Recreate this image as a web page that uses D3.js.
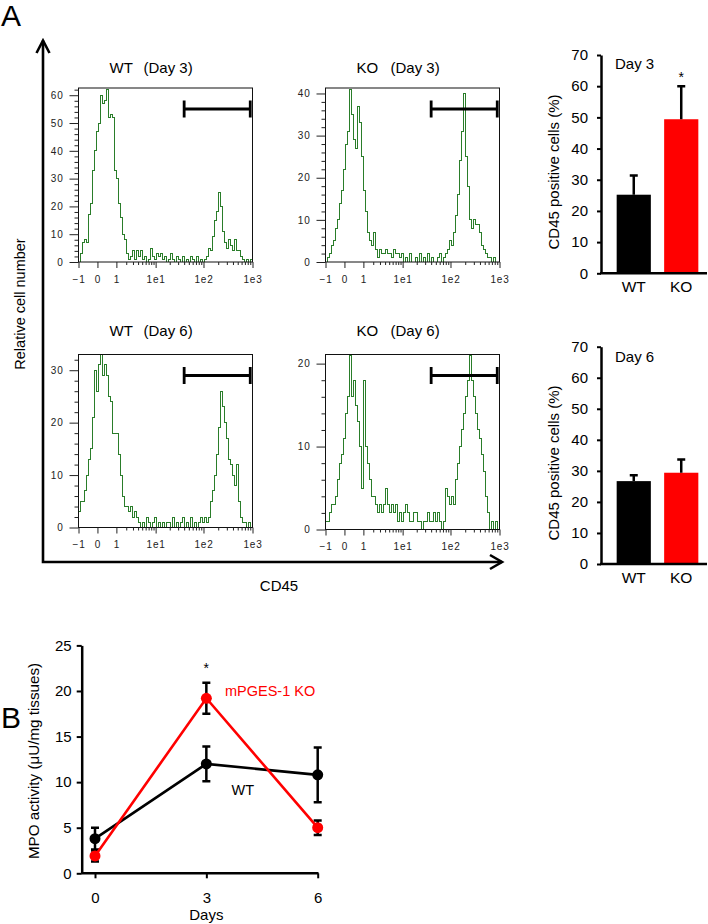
<!DOCTYPE html>
<html>
<head>
<meta charset="utf-8">
<script src="https://cdn.jsdelivr.net/npm/d3@7"></script>
<style>
  body { margin: 0; background: #fff; }
  svg { font-family: "Liberation Sans", Arial, sans-serif; }
</style>
</head>
<body>
<svg id="fig" width="708" height="924"></svg>
<script>
// CD45 flow histograms: counts per channel, channels span -1 .. 1e3
const wtDay3 = [0, 3, 7, 8, 7, 17, 21, 33, 40, 47, 50, 60, 57, 58, 62, 52, 53, 52, 33, 30,
  21, 16, 10, 8, 3, 1, 2, 4, 1, 4, 2, 4, 1, 2, 0, 1, 5, 2, 1, 3,
  2, 3, 1, 2, 0, 1, 3, 1, 0, 2, 1, 0, 2, 0, 1, 0, 2, 1, 0, 2,
  0, 1, 0, 1, 2, 5, 4, 9, 15, 18, 25, 20, 11, 7, 5, 8, 6, 4, 8, 4,
  4, 2, 1, 0, 1, 0, 1];
const koDay3 = [0, 1, 2, 4, 5, 8, 10, 14, 17, 22, 28, 31, 41, 35, 29, 27, 37, 33, 25, 17,
  12, 7, 5, 4, 7, 3, 1, 3, 2, 2, 3, 2, 2, 1, 3, 2, 2, 1, 2, 0,
  1, 0, 2, 0, 0, 1, 0, 2, 0, 1, 0, 2, 0, 1, 0, 0, 1, 2, 0, 1,
  2, 3, 5, 4, 7, 11, 16, 24, 31, 40, 25, 18, 10, 8, 10, 9, 9, 7, 4, 3,
  2, 1, 1, 0, 1, 0, 0];
const wtDay6 = [3, 5, 5, 7, 10, 13, 15, 21, 30, 26, 31, 33, 29, 31, 29, 25, 24, 18, 18, 18,
  14, 10, 6, 4, 4, 3, 4, 2, 3, 2, 1, 0, 1, 0, 2, 1, 0, 1, 2, 0,
  1, 0, 1, 0, 1, 1, 0, 2, 0, 1, 0, 1, 2, 0, 1, 0, 2, 0, 1, 0,
  1, 2, 1, 2, 1, 2, 5, 7, 10, 14, 19, 26, 23, 20, 17, 13, 12, 10, 8, 12,
  5, 2, 1, 1, 0, 1, 0];
const koDay6 = [1, 1, 2, 3, 3, 4, 6, 8, 9, 11, 14, 16, 21, 16, 18, 15, 13, 10, 5, 18,
  10, 8, 6, 4, 4, 3, 2, 3, 2, 3, 5, 3, 2, 3, 2, 3, 1, 2, 1, 2,
  3, 2, 1, 1, 2, 2, 1, 1, 0, 1, 1, 2, 1, 1, 2, 1, 2, 1, 0, 1,
  5, 4, 3, 4, 3, 6, 8, 10, 12, 14, 16, 18, 21, 18, 16, 14, 12, 11, 9, 7,
  4, 2, 0, 1, 0, 1, 0];
const cd45Ticks = [-1, 0, 1, 10, 100, 1000];
const cd45TickLabels = ["\u22121", "0", "1", "1e1", "1e2", "1e3"];
const cd45Gate = [40, 900];

// CD45 positive cells (%)
const groups = ["WT", "KO"];
const cd45Day3 = [25.2, 49.4];
const cd45Day3Err = [6.2, 10.6];
const cd45Day6 = [26.7, 29.4];
const cd45Day6Err = [1.9, 4.3];

// MPO activity (uU/mg tissues)
const days = [0, 3, 6];
const mpoWT = [3.8, 12.0, 10.8];
const mpoWTErr = [1.2, 1.9, 3.0];
const mpoKO = [1.9, 19.2, 5.0];
const mpoKOErr = [0.6, 1.7, 0.8];

const svg = d3.select("#fig");
const green = "#2a7d2a";
const red = "#ff0000";
const font = "'Liberation Sans', Arial, sans-serif";

function histogram(cfg) {
  const g = svg.append("g");
  const x = d3.scaleSymlog().constant(0.7).domain([-1, 1000]).range([cfg.x0, cfg.x1]);
  const chan = d3.scaleLinear().domain([0, cfg.counts.length]).range([cfg.x0, cfg.x1]);
  const y = d3.scaleLinear().domain([0, cfg.yMax]).range([cfg.zeroY, cfg.top]);

  const clipId = "clip" + cfg.id;
  g.append("clipPath").attr("id", clipId)
    .append("rect")
    .attr("x", cfg.x0).attr("y", cfg.top)
    .attr("width", cfg.x1 - cfg.x0).attr("height", cfg.zeroY - cfg.top);

  const pts = cfg.counts.map((c, i) => [i, c]);
  pts.push([cfg.counts.length, cfg.counts[cfg.counts.length - 1]]);
  g.append("path")
    .attr("clip-path", `url(#${clipId})`)
    .attr("d", d3.line().x(d => chan(d[0])).y(d => y(d[1])).curve(d3.curveStepAfter)(pts))
    .attr("fill", "none")
    .attr("stroke", green)
    .attr("stroke-width", 1)
    .attr("shape-rendering", "crispEdges");

  g.append("rect")
    .attr("x", cfg.x0).attr("y", cfg.top)
    .attr("width", cfg.x1 - cfg.x0).attr("height", cfg.zeroY - cfg.top)
    .attr("fill", "none").attr("stroke", "#111").attr("stroke-width", 1);

  // y axis, major + minor
  const yMajor = d3.range(0, cfg.yMax + 0.01, 10);
  const yMinor = d3.range(0, cfg.yMax, 2).filter(v => v % 10 !== 0);
  const ya = g.append("g").attr("transform", `translate(${cfg.x0},0)`)
    .call(d3.axisLeft(y).tickValues(yMajor).tickSize(9).tickPadding(6).tickFormat(d3.format("d")));
  ya.select(".domain").remove();
  const ym = g.append("g").attr("transform", `translate(${cfg.x0},0)`)
    .call(d3.axisLeft(y).tickValues(yMinor).tickSize(4).tickFormat(""));
  ym.select(".domain").remove();

  // x axis, major + minor
  const xMinor = [1, 10, 100].flatMap(dec => [2, 3, 4, 5, 6, 7, 8, 9].map(k => k * dec));
  const xa = g.append("g").attr("transform", `translate(0,${cfg.zeroY})`)
    .call(d3.axisBottom(x).tickValues(cd45Ticks).tickSize(6).tickPadding(7.5)
      .tickFormat((d, i) => cd45TickLabels[i]));
  xa.select(".domain").remove();
  const xm = g.append("g").attr("transform", `translate(0,${cfg.zeroY})`)
    .call(d3.axisBottom(x).tickValues(xMinor).tickSize(3).tickFormat(""));
  xm.select(".domain").remove();

  g.selectAll(".tick line").attr("stroke", "#222");
  g.selectAll(".tick text")
    .attr("font-family", font)
    .attr("font-size", 10).attr("fill", "#222")
    .style("letter-spacing", "0.8px");

  // gate bar
  const gy = cfg.top + 21;
  const gx0 = x(cd45Gate[0]), gx1 = x(cd45Gate[1]);
  g.append("path")
    .attr("d", `M${gx0},${gy}H${gx1}M${gx0},${gy - 8.5}V${gy + 8.5}M${gx1},${gy - 8.5}V${gy + 8.5}`)
    .attr("stroke", "#000").attr("stroke-width", 2.8).attr("fill", "none");

  const t = g.append("text").attr("y", cfg.titleY).attr("font-size", 15);
  t.append("tspan").attr("x", cfg.x0 + 31).text(cfg.title[0]);
  t.append("tspan").attr("x", cfg.x0 + 65).text(cfg.title[1]);
}

histogram({ id: 1, counts: wtDay3, title: ["WT", "(Day 3)"], x0: 78.5, x1: 252.5, top: 88, zeroY: 262, yMax: 62.6, titleY: 72.5 });
histogram({ id: 2, counts: koDay3, title: ["KO", "(Day 3)"], x0: 325.5, x1: 499.5, top: 88, zeroY: 262, yMax: 41.3, titleY: 72.5 });
histogram({ id: 3, counts: wtDay6, title: ["WT", "(Day 6)"], x0: 78.5, x1: 252.5, top: 354.5, zeroY: 527.5, yMax: 33, titleY: 336 });
histogram({ id: 4, counts: koDay6, title: ["KO", "(Day 6)"], x0: 325.5, x1: 499.5, top: 354.5, zeroY: 529.5, yMax: 21.1, titleY: 336 });

// big axes arrows
svg.append("path")
  .attr("d", "M43,40.5V562H502")
  .attr("fill", "none").attr("stroke", "#000").attr("stroke-width", 2.6)
  .attr("stroke-linejoin", "miter");
svg.append("path")
  .attr("d", "M36.5,53L43,40.5L49.5,53M490,555L502,562L490,569")
  .attr("fill", "none").attr("stroke", "#000").attr("stroke-width", 2.6);

svg.append("text")
  .attr("transform", "translate(25,304) rotate(-90)")
  .attr("text-anchor", "middle").attr("font-size", 14.5)
  .text("Relative cell number");
svg.append("text")
  .attr("x", 279).attr("y", 591)
  .attr("text-anchor", "middle").attr("font-size", 15)
  .text("CD45");

svg.append("text").attr("x", 1).attr("y", 26).attr("font-size", 30).text("A");
svg.append("text").attr("x", 1).attr("y", 728).attr("font-size", 30).text("B");

function barChart(cfg) {
  const g = svg.append("g");
  const y = d3.scaleLinear().domain([0, 70]).range([cfg.zeroY, cfg.top]);
  const x = d3.scaleBand().domain(groups).range([601, 714]).paddingInner(0.28).paddingOuter(0.33);

  g.selectAll("rect.bar").data(cfg.values).join("rect")
    .attr("class", "bar")
    .attr("x", (d, i) => x(groups[i]))
    .attr("width", x.bandwidth())
    .attr("y", d => y(d))
    .attr("height", d => y(0) - y(d))
    .attr("fill", (d, i) => i === 0 ? "#000" : red);

  g.selectAll("path.err").data(cfg.values).join("path")
    .attr("class", "err")
    .attr("d", (d, i) => {
      const cx = x(groups[i]) + x.bandwidth() / 2;
      const t = y(d + cfg.errs[i]);
      return `M${cx},${y(d)}V${t}M${cx - 4},${t}H${cx + 4}`;
    })
    .attr("stroke", "#000").attr("stroke-width", 2.5).attr("fill", "none");

  const ya = g.append("g").attr("transform", "translate(601,0)")
    .call(d3.axisLeft(y).tickValues(d3.range(0, 71, 10)).tickSize(4).tickSizeOuter(0).tickPadding(9));
  ya.select(".domain").attr("stroke-width", 2.5);
  ya.selectAll(".tick line").attr("stroke-width", 2);
  ya.selectAll(".tick text").attr("font-size", 15).attr("fill", "#000").attr("font-family", font);

  g.append("line").attr("x1", 600).attr("x2", 707).attr("y1", y(0)).attr("y2", y(0))
    .attr("stroke", "#000").attr("stroke-width", 2.5);

  g.selectAll("text.grp").data(groups).join("text")
    .attr("class", "grp")
    .attr("x", d => x(d) + x.bandwidth() / 2)
    .attr("y", cfg.zeroY + 19)
    .attr("text-anchor", "middle").attr("font-size", 15.5)
    .text(d => d);

  g.append("text").attr("x", 615).attr("y", cfg.dayY).attr("font-size", 15).text(cfg.day);

  g.append("text")
    .attr("transform", `translate(558.5,${cfg.labelY}) rotate(-90)`)
    .attr("text-anchor", "middle").attr("font-size", 15)
    .text("CD45 positive cells (%)");

  if (cfg.star) {
    g.append("text").attr("x", x("KO") + x.bandwidth() / 2).attr("y", y(cfg.values[1] + cfg.errs[1]) - 4)
      .attr("text-anchor", "middle").attr("font-size", 14).text("*");
  }
}

barChart({ values: cd45Day3, errs: cd45Day3Err, top: 55, zeroY: 273.3, day: "Day 3", dayY: 68.5, labelY: 172, star: true });
barChart({ values: cd45Day6, errs: cd45Day6Err, top: 346.7, zeroY: 564, day: "Day 6", dayY: 362, labelY: 463, star: false });

// panel B
{
  const g = svg.append("g");
  const x = d3.scaleLinear().domain([0, 6]).range([95, 317.7]);
  const y = d3.scaleLinear().domain([0, 25]).range([873.3, 645.4]);

  const ya = g.append("g").attr("transform", "translate(81.7,0)")
    .call(d3.axisLeft(y).tickValues(d3.range(0, 26, 5)).tickSize(5).tickSizeOuter(0).tickPadding(5));
  ya.select(".domain").attr("stroke-width", 2.5);
  ya.selectAll(".tick line").attr("stroke-width", 2);

  const xa = g.append("g").attr("transform", "translate(0,873.3)")
    .call(d3.axisBottom(x).tickValues(days).tickSize(5).tickPadding(14).tickFormat(d3.format("d")));
  xa.select(".domain").remove();
  xa.selectAll(".tick line").attr("stroke-width", 2);
  g.append("line").attr("x1", 81.7).attr("x2", 318.5).attr("y1", 873.3).attr("y2", 873.3)
    .attr("stroke", "#000").attr("stroke-width", 2.5);

  g.selectAll(".tick text").attr("font-size", 15).attr("fill", "#000").attr("font-family", font);

  function series(vals, errs, color) {
    g.append("g").selectAll("path").data(vals).join("path")
      .attr("d", (d, i) => {
        const cx = x(days[i]), t = y(d + errs[i]), b = y(d - errs[i]);
        return `M${cx},${b}V${t}M${cx - 4},${t}H${cx + 4}M${cx - 4},${b}H${cx + 4}`;
      })
      .attr("stroke", "#000").attr("stroke-width", 2.5).attr("fill", "none");
    g.append("path")
      .attr("d", d3.line().x((d, i) => x(days[i])).y(d => y(d))(vals))
      .attr("fill", "none").attr("stroke", color).attr("stroke-width", 2.6);
    g.append("g").selectAll("circle").data(vals).join("circle")
      .attr("cx", (d, i) => x(days[i])).attr("cy", d => y(d)).attr("r", 5.5)
      .attr("fill", color);
  }
  series(mpoWT, mpoWTErr, "#000");
  series(mpoKO, mpoKOErr, red);

  g.append("text").attr("x", x(3)).attr("y", 673).attr("text-anchor", "middle").attr("font-size", 14).text("*");
  g.append("text").attr("x", 225).attr("y", 696).attr("font-size", 14.5).attr("fill", red).text("mPGES-1 KO");
  g.append("text").attr("x", 231.5).attr("y", 795).attr("font-size", 14.5).text("WT");
  g.append("text").attr("x", x(3)).attr("y", 920).attr("text-anchor", "middle").attr("font-size", 15).text("Days");
  g.append("text")
    .attr("transform", "translate(38.5,761) rotate(-90)")
    .attr("text-anchor", "middle").attr("font-size", 15.2)
    .text("MPO activity (\u03bcU/mg tissues)");
}
</script>
</body>
</html>
